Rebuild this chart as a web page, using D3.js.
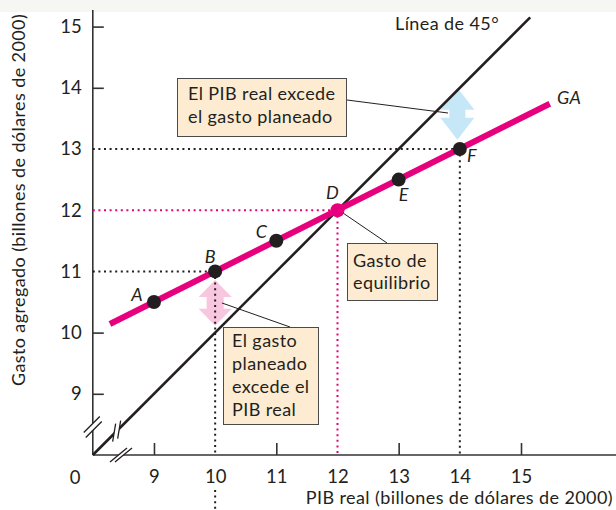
<!DOCTYPE html>
<html><head><meta charset="utf-8">
<script src="https://cdn.jsdelivr.net/npm/d3@7"></script>
<style>
body{margin:0;background:#fff}
svg{display:block}
text{font-family:Lato,"Open Sans",sans-serif;fill:#231f20}
</style>
</head><body>
<svg id="chart" width="616" height="510"></svg>
<script>
// ---- data ----
const pointLabels = ["A", "B", "C", "D", "E", "F"];
const realGDP = [9, 10, 11, 12, 13, 14];
const plannedSpending = [10.5, 11, 11.5, 12, 12.5, 13];
const xTickValues = [9, 10, 11, 12, 13, 14, 15];
const yTickValues = [9, 10, 11, 12, 13, 14, 15];
const gaLineX = [8.28, 15.47];
const gaLineY = [10.14, 13.74];
const line45X = [8, 15.15];
const line45Y = [8, 15.15];
const originLabel = "0";
const xTitle = "PIB real (billones de dólares de 2000)";
const yTitle = "Gasto agregado (billones de dólares de 2000)";
const line45Label = "Línea de 45°";
const gaLabel = "GA";
const boxExcessGDP = ["El PIB real excede", "el gasto planeado"];
const boxExcessSpending = ["El gasto", "planeado", "excede el", "PIB real"];
const boxEquilibrium = ["Gasto de", "equilibrio"];
// arrows: [gdp, spending top, spending bottom]
const arrowDown = [13.96, 14.0, 13.15];
const arrowUp = [10.0, 10.86, 10.11];

// ---- colours ----
const PINK = "#e6007e", INK = "#231f20", BOX = "#fdecd2";
const FS = 18, LS = 0.4;

const svg = d3.select("#chart");
svg.append("rect").attr("width", 616).attr("height", 510).attr("fill", "#fff");
svg.append("rect").attr("width", 616).attr("height", 12).attr("fill", "#f6f6f3");

const x = d3.scaleLinear().domain([8, 15]).range([92.8, 521]);
const y = d3.scaleLinear().domain([8, 15]).range([455, 26.6]);

const dotted = (g, x1, y1, x2, y2, col) => g.append("line")
  .attr("x1", x1).attr("y1", y1).attr("x2", x2).attr("y2", y2)
  .attr("stroke", col).attr("stroke-width", 2).attr("stroke-dasharray", "2,3.6");
const txt = (sel) => sel.attr("font-size", FS).attr("letter-spacing", LS);

// ---- axes ----
const axG = svg.append("g");
axG.append("line").attr("x1", x(8)).attr("y1", y(8)).attr("x2", x(8)).attr("y2", 10)
  .attr("stroke", "#333").attr("stroke-width", 1.6);
axG.append("line").attr("x1", x(8)).attr("y1", y(8)).attr("x2", 616).attr("y2", y(8))
  .attr("stroke", "#333").attr("stroke-width", 1.6);

const yAxis = svg.append("g").attr("transform", `translate(${x(8)},0)`)
  .call(d3.axisLeft(y).tickValues(yTickValues).tickSize(-11).tickPadding(11).tickFormat(d3.format("d")));
const xAxis = svg.append("g").attr("transform", `translate(0,${y(8)})`)
  .call(d3.axisBottom(x).tickValues(xTickValues).tickSize(-12).tickPadding(15).tickFormat(d3.format("d")));
[yAxis, xAxis].forEach(a => {
  a.select(".domain").remove();
  a.selectAll(".tick line").attr("stroke", "#333").attr("stroke-width", 1.6)
    .attr("display", d => [10, 12, 14].includes(d) && a === xAxis || [11, 12, 13].includes(d) && a === yAxis ? "none" : null);
  a.selectAll(".tick text").attr("font-size", 18.5).attr("font-family", "Lato")
    .attr("fill", d => d === 12 ? PINK : INK);
});
xAxis.selectAll(".tick text").attr("dy", "0.71em");
svg.append("text").attr("x", 75).attr("y", y(8) + 29).attr("text-anchor", "middle")
  .attr("font-size", 18.5).text(originLabel);

// titles
svg.append("text").attr("x", 613).attr("y", 504).attr("text-anchor", "end")
  .call(txt).text(xTitle);
svg.append("text").attr("transform", "translate(25,200) rotate(-90)").attr("text-anchor", "middle")
  .call(txt).text(yTitle);

// ---- dotted guide lines ----
const gl = svg.append("g");
realGDP.forEach((g, i) => {
  const s = plannedSpending[i];
  const col = g === 12 ? PINK : INK;
  if ([11, 12, 13].includes(s)) dotted(gl, x(8), y(s), x(g), y(s), col);
  if ([10, 12, 14].includes(g)) dotted(gl, x(g), y(s), x(g), y(8), col);
});
dotted(gl, x(10), 490, x(10), 510, INK);

// ---- arrows ----
function dblArrow(cx, yt, yb, hl, hw, sw, fill) {
  const p = `M${cx},${yt} L${cx + hw},${yt + hl} L${cx + sw},${yt + hl} L${cx + sw},${yb - hl} L${cx + hw},${yb - hl} L${cx},${yb} L${cx - hw},${yb - hl} L${cx - sw},${yb - hl} L${cx - sw},${yt + hl} L${cx - hw},${yt + hl} Z`;
  svg.insert("path", () => gl.node()).attr("d", p).attr("fill", fill);
}
dblArrow(x(arrowDown[0]), y(arrowDown[1]), y(arrowDown[2]), 22, 17, 8, "#c6e7f8");
dblArrow(x(arrowUp[0]), y(arrowUp[1]), y(arrowUp[2]), 17, 16.5, 8.5, "#f8c6de");

// ---- leader lines ----
const leaders = [[347, 100, 448, 113], [222, 303, 290, 327], [343, 213, 387, 243]];
leaders.forEach(l => svg.append("line").attr("x1", l[0]).attr("y1", l[1]).attr("x2", l[2]).attr("y2", l[3])
  .attr("stroke", INK).attr("stroke-width", 1));

// ---- 45 degree line ----
svg.append("line").attr("x1", x(line45X[0])).attr("y1", y(line45Y[0]))
  .attr("x2", x(line45X[1])).attr("y2", y(line45Y[1]))
  .attr("stroke", INK).attr("stroke-width", 2.6);
svg.append("text").attr("x", 395).attr("y", 30).call(txt).text(line45Label);

// ---- break marks ----
const brk = svg.append("g");
function breakMark(cx, cy, dx, dy, ox, oy) {
  brk.append("polygon")
    .attr("points", `${cx - dx + ox * -0.5},${cy + dy + oy * -0.5} ${cx + dx + ox * -0.5},${cy - dy + oy * -0.5} ${cx + dx + ox * 0.5},${cy - dy + oy * 0.5} ${cx - dx + ox * 0.5},${cy + dy + oy * 0.5}`)
    .attr("fill", "#fff");
  [-0.5, 0.5].forEach(k => brk.append("line")
    .attr("x1", cx - dx + ox * k).attr("y1", cy + dy + oy * k)
    .attr("x2", cx + dx + ox * k).attr("y2", cy - dy + oy * k)
    .attr("stroke", INK).attr("stroke-width", 1.3));
}
breakMark(x(8), 427, 8, 8, 2, 5);
breakMark(121, y(8), 8.5, 7, 5, 0);
breakMark(x(8.39), y(8.39), 1.5, 9, 5, -3);

// ---- GA line ----
svg.append("line").attr("x1", x(gaLineX[0])).attr("y1", y(gaLineY[0]))
  .attr("x2", x(gaLineX[1])).attr("y2", y(gaLineY[1]))
  .attr("stroke", PINK).attr("stroke-width", 6);
svg.append("text").attr("x", 557).attr("y", 104).call(txt)
  .attr("font-style", "italic").text(gaLabel);

// ---- points ----
const labelOff = [[-17, -1], [-5, -8], [-15, -3], [-5, -11], [5, 21], [12, 13]];
realGDP.forEach((g, i) => {
  const col = pointLabels[i] === "D" ? PINK : INK;
  svg.append("circle").attr("cx", x(g)).attr("cy", y(plannedSpending[i])).attr("r", 7).attr("fill", col);
  svg.append("text").attr("x", x(g) + labelOff[i][0]).attr("y", y(plannedSpending[i]) + labelOff[i][1])
    .attr("text-anchor", "middle").attr("font-size", FS).attr("font-style", "italic")
    .attr("fill", col).text(pointLabels[i]);
});

// ---- boxes ----
function box(x0, y0, w, h, lines, tx, ty, lh) {
  svg.append("rect").attr("x", x0).attr("y", y0).attr("width", w).attr("height", h)
    .attr("fill", BOX).attr("stroke", "#4a4a4a").attr("stroke-width", 1);
  lines.forEach((t, i) => svg.append("text").attr("x", tx).attr("y", ty + i * lh)
    .call(txt).text(t));
}
box(177.5, 78.5, 169, 58, boxExcessGDP, 188, 100, 23);
box(223.5, 327.5, 95, 97, boxExcessSpending, 232, 347, 23);
box(347.5, 243.5, 90, 57, boxEquilibrium, 353, 267, 22);
</script>
</body></html>
